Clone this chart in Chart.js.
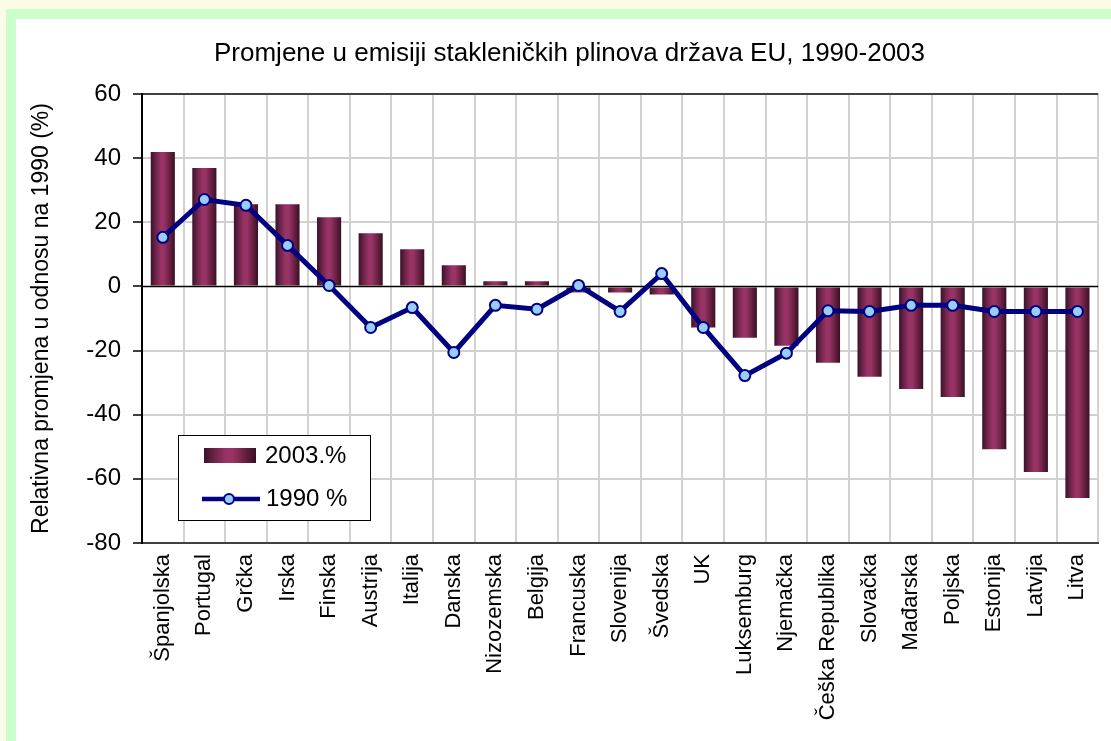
<!DOCTYPE html>
<html><head><meta charset="utf-8">
<script src="https://cdn.jsdelivr.net/npm/chart.js@4.4.0/dist/chart.umd.min.js"></script>
<style>
html,body{margin:0;padding:0;width:1111px;height:741px;overflow:hidden;background:#fcfbe6;}
#green{position:absolute;left:6px;top:9px;width:1200px;height:800px;background:#ccffcc;}
#white{position:absolute;left:16px;top:19px;width:1200px;height:800px;background:#ffffff;}
#wrap{position:absolute;left:0;top:0;width:1115px;height:741px;}
</style></head><body>
<div id="green"></div><div id="white"></div>
<div id="wrap"><canvas id="c" width="1115" height="741"></canvas></div>
<script>
const titleText = 'Promjene u emisiji stakleničkih plinova država EU, 1990-2003';
const yAxisTitle = 'Relativna promjena u odnosu na 1990 (%)';
const categories = ['Španjolska','Portugal','Grčka','Irska','Finska','Austrija','Italija','Danska','Nizozemska','Belgija','Francuska','Slovenija','Švedska','UK','Luksemburg','Njemačka','Češka Republika','Slovačka','Mađarska','Poljska','Estonija','Latvija','Litva'];
const seriesNames = ['2003.%','1990 %'];
const values2003 = [41.9,36.9,25.6,25.6,21.6,16.6,11.6,6.6,1.6,1.6,-1.9,-1.9,-2.5,-12.8,-16.0,-18.5,-23.8,-28.2,-32.0,-34.5,-50.8,-57.9,-66.0];
const values1990 = [15.3,27.1,25.3,12.8,0.3,-12.8,-6.6,-20.6,-5.9,-7.1,0.3,-7.8,4.0,-12.8,-27.8,-20.8,-7.6,-7.8,-5.9,-5.9,-7.8,-7.8,-7.8];
const yTicks = {min:-80, max:60, step:20};

const FONT = "'Liberation Sans', Arial, sans-serif";
Chart.defaults.font.family = FONT;
Chart.defaults.color = '#000';

const BAR_PCT = 0.58;
function makeGrad(c, x0, x1){
  const g = c.createLinearGradient(x0,0,x1,0);
  g.addColorStop(0,'#3a112b');
  g.addColorStop(0.2,'#6c2447');
  g.addColorStop(0.42,'#993366');
  g.addColorStop(0.55,'#993366');
  g.addColorStop(0.8,'#66203f');
  g.addColorStop(1,'#361026');
  return g;
}
function barGradient(ctx){
  const chart = ctx.chart;
  if(!chart.chartArea || !chart.scales.x) return '#993366';
  const xs = chart.scales.x;
  const cx = xs.getPixelForValue(ctx.dataIndex);
  const w = xs.width / categories.length * BAR_PCT;
  return makeGrad(chart.ctx, cx - w/2, cx + w/2);
}

const zeroLine = {
  id:'zeroLine',
  afterDatasetDraw(chart, args){
    if(args.index !== 0) return;
    const c = chart.ctx, a = chart.chartArea, y = chart.scales.y.getPixelForValue(0);
    c.save(); c.strokeStyle='#000'; c.lineWidth=1.5;
    c.beginPath(); c.moveTo(a.left, y); c.lineTo(a.right, y); c.stroke(); c.restore();
  }
};
const boxLegend = {
  id:'boxLegend',
  afterDraw(chart){
    const c = chart.ctx;
    c.save();
    c.fillStyle='#fff'; c.fillRect(178,435,192,85);
    c.strokeStyle='#000'; c.lineWidth=1; c.strokeRect(178.5,435.5,192,85);
    c.fillStyle = makeGrad(c,204,256); c.fillRect(204,448,52,15);
    c.strokeStyle='#000080'; c.lineWidth=4.5;
    c.beginPath(); c.moveTo(202,499); c.lineTo(260,499); c.stroke();
    c.beginPath(); c.arc(229,499,5,0,Math.PI*2); c.fillStyle='#99ccff'; c.fill();
    c.lineWidth=2; c.stroke();
    c.fillStyle='#000'; c.font='24px '+FONT; c.textBaseline='middle'; c.textAlign='left';
    c.fillText(seriesNames[0],265,456);
    c.fillText(seriesNames[1],266,499);
    c.restore();
  }
};

new Chart(document.getElementById('c'), {
  data:{
    labels: categories,
    datasets:[
      {type:'bar', label:seriesNames[0], data:values2003, backgroundColor:barGradient, barPercentage:BAR_PCT, categoryPercentage:1, order:1},
      {type:'line', label:seriesNames[1], data:values1990, borderColor:'#000080', borderWidth:5, tension:0,
       pointRadius:5.5, pointBorderWidth:2, pointBackgroundColor:'#99ccff', pointBorderColor:'#000080', order:0}
    ]
  },
  options:{
    responsive:false, animation:false,
    layout:{padding:{left:24,right:0,top:0,bottom:0}},
    plugins:{
      legend:{display:false}, tooltip:{enabled:false},
      title:{display:true, text:titleText, color:'#000', font:{size:26, weight:'normal', lineHeight:1.2}, padding:{top:38.6,bottom:24.2}}
    },
    scales:{
      x:{
        offset:true,
        grid:{offset:true, color:'#d2d2d2', lineWidth:2, drawTicks:false},
        border:{color:'#404040', width:2},
        ticks:{minRotation:90, maxRotation:90, autoSkip:false, padding:11, font:{size:22}, color:'#000'},
        afterFit:s=>{s.height=198;}
      },
      y:{
        min:yTicks.min, max:yTicks.max,
        ticks:{stepSize:yTicks.step, font:{size:24}, padding:12, color:'#000'},
        grid:{
          color:c=> (c.tick && c.tick.value===0) ? 'rgba(0,0,0,0)' : ((c.tick && (c.tick.value===60||c.tick.value===-80)) ? '#404040' : '#d0d0d0'),
          lineWidth:2, tickColor:'#000', tickLength:9, tickWidth:1.5
        },
        border:{color:'#000', width:2},
        title:{display:true, text:yAxisTitle, color:'#000', font:{size:23, lineHeight:1.2}, padding:{top:4,bottom:0}},
        afterFit:s=>{s.width=118;}
      }
    }
  },
  plugins:[zeroLine, boxLegend]
});
</script>
</body></html>
